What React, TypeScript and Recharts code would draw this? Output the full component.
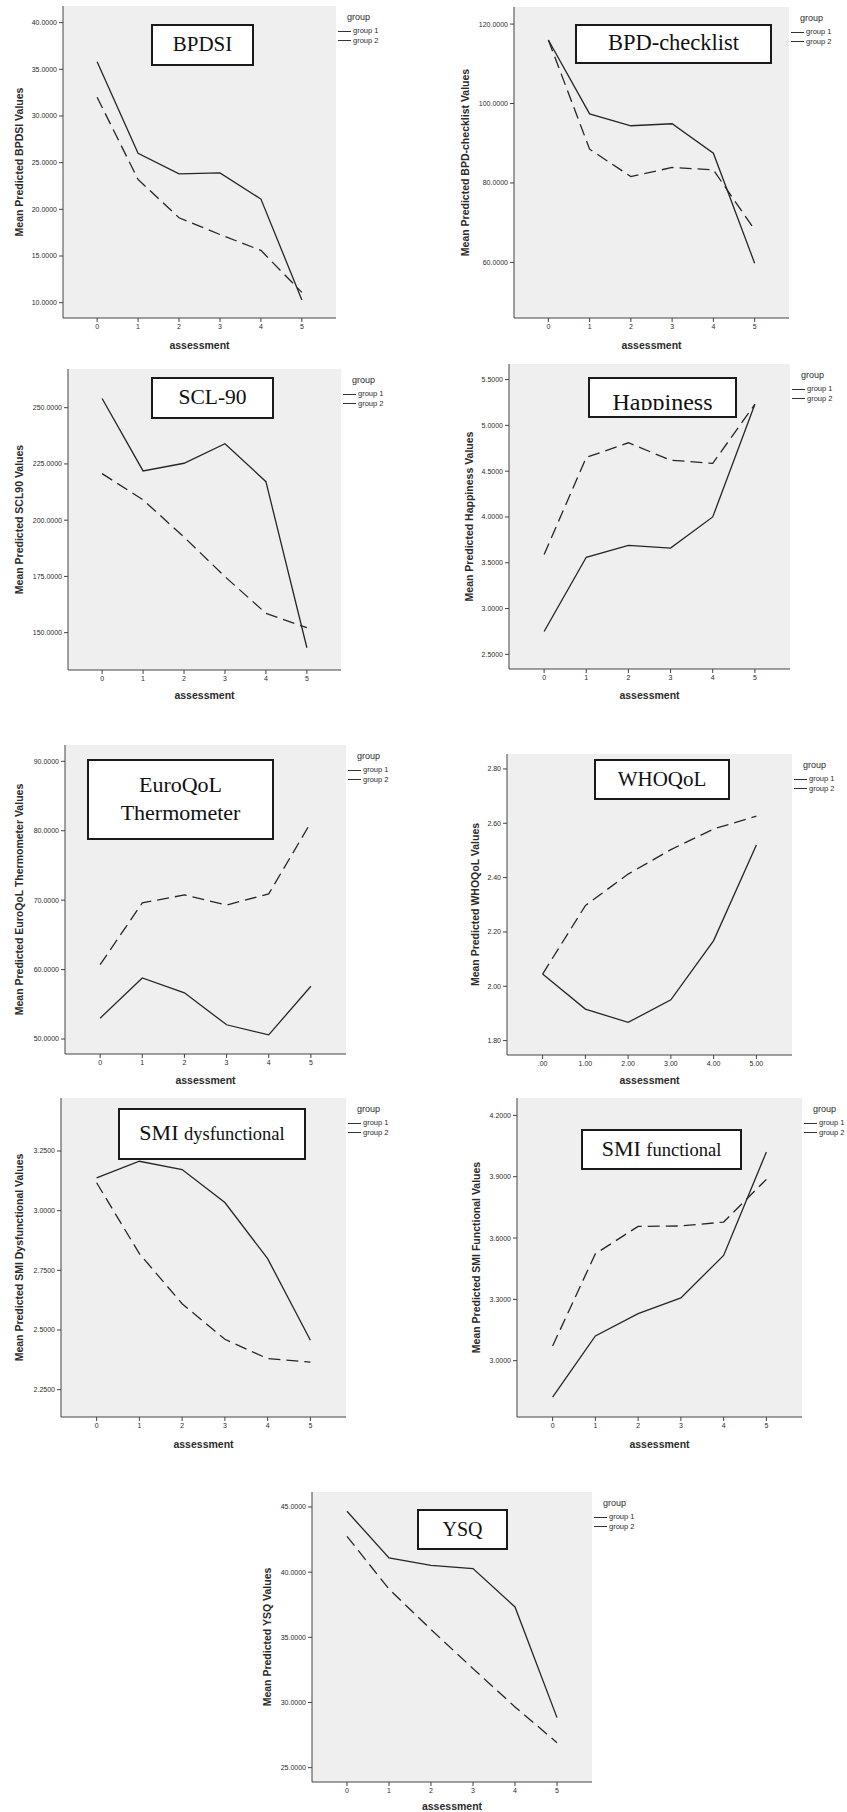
import React from 'react';
import { LineChart, Line, XAxis, YAxis, CartesianGrid } from 'recharts';

// ---------- data ----------
const assessments = [0, 1, 2, 3, 4, 5];
const assessmentLabels = ['0', '1', '2', '3', '4', '5'];
const whoqolAssessmentLabels = ['.00', '1.00', '2.00', '3.00', '4.00', '5.00'];
const groupNames = ['group 1', 'group 2'];

const bpdsiG1 = [35.8, 26.0, 23.8, 23.9, 21.1, 10.3];
const bpdsiG2 = [32.0, 23.2, 19.1, 17.3, 15.6, 11.1];
const bpdsiTicks = [10, 15, 20, 25, 30, 35, 40];

const bpdChecklistG1 = [116.0, 97.4, 94.4, 94.9, 87.5, 59.8];
const bpdChecklistG2 = [116.0, 88.5, 81.6, 83.9, 83.3, 68.2];
const bpdChecklistTicks = [60, 80, 100, 120];

const scl90G1 = [254.1, 221.9, 225.3, 234.0, 217.1, 143.3];
const scl90G2 = [220.7, 209.0, 192.5, 174.9, 158.6, 152.2];
const scl90Ticks = [150, 175, 200, 225, 250];

const happinessG1 = [2.75, 3.56, 3.69, 3.66, 4.0, 5.23];
const happinessG2 = [3.59, 4.65, 4.81, 4.62, 4.585, 5.23];
const happinessTicks = [2.5, 3.0, 3.5, 4.0, 4.5, 5.0, 5.5];

const euroqolG1 = [53.0, 58.8, 56.65, 52.05, 50.6, 57.6];
const euroqolG2 = [60.7, 69.6, 70.75, 69.3, 70.9, 81.2];
const euroqolTicks = [50, 60, 70, 80, 90];

const whoqolG1 = [2.045, 1.916, 1.867, 1.95, 2.168, 2.52];
const whoqolG2 = [2.045, 2.297, 2.413, 2.503, 2.579, 2.626];
const whoqolTicks = [1.8, 2.0, 2.2, 2.4, 2.6, 2.8];

const smiDysG1 = [3.137, 3.207, 3.172, 3.034, 2.799, 2.457];
const smiDysG2 = [3.117, 2.82, 2.61, 2.461, 2.38, 2.365];
const smiDysTicks = [2.25, 2.5, 2.75, 3.0, 3.25];

const smiFuncG1 = [2.822, 3.121, 3.23, 3.307, 3.515, 4.021];
const smiFuncG2 = [3.072, 3.523, 3.657, 3.659, 3.678, 3.887];
const smiFuncTicks = [3.0, 3.3, 3.6, 3.9, 4.2];

const ysqG1 = [44.67, 41.09, 40.52, 40.27, 37.33, 28.84];
const ysqG2 = [42.75, 38.7, 35.6, 32.6, 29.66, 26.92];
const ysqTicks = [25, 30, 35, 40, 45];

// ---------- styling ----------
const SANS = '"Liberation Sans", Arial, Helvetica, sans-serif';
const SERIF = '"Liberation Serif", "Times New Roman", serif';
const INK = '#2b2b2b';
const AXIS = '#444';
const YW = 58;
const XH = 38;
const MT = 2;
const MR = 2;
const X_DOMAIN: [number, number] = [-0.833, 5.833];

type Seg = { t: string; s: number };
type TitleSpec = { rect: number[]; lines: Seg[][]; lh?: number; clip?: number; textTop?: number };
type PanelSpec = {
  id: string;
  yLabel: string;
  g1: number[];
  g2: number[];
  ticks: number[];
  yDomain: [number, number];
  digits: number;
  xLabels: string[];
  box: number[];
  yTitleDist: number;
  xTitleDy: number;
  title: TitleSpec;
};

const panels: PanelSpec[] = [
  {
    id: 'bpdsi', yLabel: 'Mean Predicted BPDSI Values', g1: bpdsiG1, g2: bpdsiG2, ticks: bpdsiTicks,
    yDomain: [8.36, 41.78], digits: 4, xLabels: assessmentLabels, box: [63, 6, 336, 318],
    yTitleDist: 44, xTitleDy: 27,
    title: { rect: [151, 24, 254, 66], lines: [[{ t: 'BPDSI', s: 21 }]] },
  },
  {
    id: 'bpdc', yLabel: 'Mean Predicted BPD-checklist Values', g1: bpdChecklistG1, g2: bpdChecklistG2, ticks: bpdChecklistTicks,
    yDomain: [46.0, 124.3], digits: 4, xLabels: assessmentLabels, box: [514, 7, 789, 318],
    yTitleDist: 49, xTitleDy: 27,
    title: { rect: [575, 24, 772, 64], lines: [[{ t: 'BPD-checklist', s: 22.5 }]] },
  },
  {
    id: 'scl', yLabel: 'Mean Predicted SCL90 Values', g1: scl90G1, g2: scl90G2, ticks: scl90Ticks,
    yDomain: [133.4, 267.2], digits: 4, xLabels: assessmentLabels, box: [68, 369, 341, 670],
    yTitleDist: 49, xTitleDy: 25,
    title: { rect: [151, 377, 274, 419], lines: [[{ t: 'SCL-90', s: 21.5 }]] },
  },
  {
    id: 'happy', yLabel: 'Mean Predicted Happiness Values', g1: happinessG1, g2: happinessG2, ticks: happinessTicks,
    yDomain: [2.34, 5.67], digits: 4, xLabels: assessmentLabels, box: [509, 364, 790, 669],
    yTitleDist: 40, xTitleDy: 26,
    title: { rect: [588, 377, 737, 418], lines: [[{ t: 'Happiness', s: 24 }]], clip: 31, textTop: 11, lh: 24 },
  },
  {
    id: 'euro', yLabel: 'Mean Predicted EuroQoL Thermometer Values', g1: euroqolG1, g2: euroqolG2, ticks: euroqolTicks,
    yDomain: [47.84, 92.35], digits: 4, xLabels: assessmentLabels, box: [65, 745, 346, 1054],
    yTitleDist: 46, xTitleDy: 26,
    title: { rect: [87, 759, 274, 840], lines: [[{ t: 'EuroQoL', s: 22 }], [{ t: 'Thermometer', s: 22 }]], lh: 26 },
  },
  {
    id: 'who', yLabel: 'Mean Predicted WHOQoL Values', g1: whoqolG1, g2: whoqolG2, ticks: whoqolTicks,
    yDomain: [1.747, 2.855], digits: 2, xLabels: whoqolAssessmentLabels, box: [507, 754, 792, 1055],
    yTitleDist: 32, xTitleDy: 25,
    title: { rect: [594, 759, 730, 800], lines: [[{ t: 'WHOQoL', s: 21 }]] },
  },
  {
    id: 'smid', yLabel: 'Mean Predicted SMI Dysfunctional Values', g1: smiDysG1, g2: smiDysG2, ticks: smiDysTicks,
    yDomain: [2.1355, 3.472], digits: 4, xLabels: assessmentLabels, box: [61, 1098, 346, 1417],
    yTitleDist: 42, xTitleDy: 27,
    title: { rect: [118, 1108, 306, 1160], lines: [[{ t: 'SMI', s: 22 }, { t: 'dysfunctional', s: 18.5 }]] },
  },
  {
    id: 'smif', yLabel: 'Mean Predicted SMI Functional Values', g1: smiFuncG1, g2: smiFuncG2, ticks: smiFuncTicks,
    yDomain: [2.7245, 4.285], digits: 4, xLabels: assessmentLabels, box: [517, 1098, 802, 1417],
    yTitleDist: 41, xTitleDy: 27,
    title: { rect: [581, 1129, 742, 1170], lines: [[{ t: 'SMI', s: 22 }, { t: 'functional', s: 18.5 }]] },
  },
  {
    id: 'ysq', yLabel: 'Mean Predicted YSQ Values', g1: ysqG1, g2: ysqG2, ticks: ysqTicks,
    yDomain: [23.9, 46.15], digits: 4, xLabels: assessmentLabels, box: [312, 1492, 592, 1782],
    yTitleDist: 45, xTitleDy: 24,
    title: { rect: [417, 1509, 508, 1550], lines: [[{ t: 'YSQ', s: 20 }]] },
  },
];

const makeYTitle = (text: string, dist: number) => (props: any) => {
  const vb = props.viewBox || {};
  const cx = vb.x + vb.width - dist;
  const cy = vb.y + vb.height / 2;
  return (
    <text x={cx} y={cy} transform={`rotate(-90 ${cx} ${cy})`} textAnchor="middle" dominantBaseline="central"
      fontSize={10.5} fontWeight="bold" fontFamily={SANS} fill={INK}>
      {text}
    </text>
  );
};

const makeXTitle = (dy: number) => (props: any) => {
  const vb = props.viewBox || {};
  const cx = vb.x + vb.width / 2;
  const cy = vb.y + dy;
  return (
    <text x={cx} y={cy} textAnchor="middle" dominantBaseline="central"
      fontSize={10.5} fontWeight="bold" fontFamily={SANS} fill={INK}>
      assessment
    </text>
  );
};

function GroupLegend({ x, y }: { x: number; y: number }) {
  return (
    <>
      <div style={{ position: 'absolute', left: x + 11, top: y + 10.5, transform: 'translateY(-50%)', fontSize: 9, fontFamily: SANS, color: INK, lineHeight: 1, whiteSpace: 'nowrap' }}>group</div>
      {groupNames.map((g, i) => (
        <React.Fragment key={g}>
          <div style={{ position: 'absolute', left: x + 2, top: y + 24.5 + i * 9.5, width: 13, borderTop: '1px solid #333' }} />
          <div style={{ position: 'absolute', left: x + 17, top: y + 25 + i * 9.5, transform: 'translateY(-50%)', fontSize: 7.5, fontFamily: SANS, color: INK, lineHeight: 1, whiteSpace: 'nowrap' }}>{g}</div>
        </React.Fragment>
      ))}
    </>
  );
}

function TitleBox({ t }: { t: TitleSpec }) {
  const [x0, y0, x1, y1] = t.rect;
  const base: React.CSSProperties = {
    position: 'absolute', left: x0, top: y0, width: x1 - x0, height: y1 - y0, boxSizing: 'border-box',
    border: '2px solid #1a1a1a', background: '#fff', fontFamily: SERIF, color: '#111', overflow: 'hidden',
  };
  const renderLine = (line: Seg[], i: number) => (
    <div key={i} style={{ lineHeight: (t.lh || 26) + 'px', whiteSpace: 'nowrap', textAlign: 'center' }}>
      {line.map((seg, j) => (
        <span key={j} style={{ fontSize: seg.s }}>{seg.t}{j < line.length - 1 ? ' ' : ''}</span>
      ))}
    </div>
  );
  if (t.clip) {
    return (
      <div style={base}>
        <div style={{ position: 'absolute', left: 0, right: 0, top: 0, height: t.clip, overflow: 'hidden' }}>
          <div style={{ position: 'absolute', left: 0, right: 0, top: t.textTop }}>{t.lines.map(renderLine)}</div>
        </div>
      </div>
    );
  }
  return (
    <div style={{ ...base, display: 'flex', flexDirection: 'column', alignItems: 'center', justifyContent: 'center' }}>
      {t.lines.map(renderLine)}
    </div>
  );
}

function Panel({ p }: { p: PanelSpec }) {
  const data = assessments.map((t, i) => ({ t, g1: p.g1[i], g2: p.g2[i] }));
  const [x0, y0, x1, y1] = p.box;
  const width = x1 - x0 + YW + MR;
  const height = y1 - y0 + XH + MT;
  const tickStyle = { fontSize: 7, fill: INK, fontFamily: SANS };
  return (
    <>
      <div style={{ position: 'absolute', left: x0 - YW, top: y0 - MT }}>
        <LineChart width={width} height={height} data={data} margin={{ top: MT, right: MR, bottom: 0, left: 0 }}>
          <CartesianGrid horizontal={false} vertical={false} fill="#efefef" />
          <XAxis dataKey="t" type="number" domain={X_DOMAIN} ticks={assessments} interval={0} allowDataOverflow
            tickFormatter={(v: number) => p.xLabels[assessments.indexOf(v)]}
            height={XH} tickSize={4} tickMargin={2} stroke={AXIS} tick={tickStyle}
            label={makeXTitle(p.xTitleDy)} />
          <XAxis xAxisId="top" orientation="top" type="number" domain={X_DOMAIN} allowDataOverflow
            height={0} tick={false} tickLine={false} stroke={AXIS} />
          <YAxis type="number" domain={p.yDomain} ticks={p.ticks} interval={0} allowDataOverflow
            tickFormatter={(v: number) => v.toFixed(p.digits)}
            width={YW} tickSize={4} tickMargin={2} stroke={AXIS} tick={tickStyle}
            label={makeYTitle(p.yLabel, p.yTitleDist)} />
          <YAxis yAxisId="right" orientation="right" type="number" domain={p.yDomain} allowDataOverflow
            width={0} tick={false} tickLine={false} stroke={AXIS} />
          <Line dataKey="g1" type="linear" stroke="#262626" strokeWidth={1.3} dot={false} isAnimationActive={false} />
          <Line dataKey="g2" type="linear" stroke="#262626" strokeWidth={1.3} strokeDasharray="12 6" dot={false} isAnimationActive={false} />
        </LineChart>
      </div>
      <TitleBox t={p.title} />
      <GroupLegend x={x1} y={y0} />
    </>
  );
}

export default function App() {
  return (
    <div style={{ position: 'absolute', left: 0, top: 0, width: 847, height: 1812, overflow: 'hidden', background: '#fff' }}>
      {panels.map((p) => (
        <Panel key={p.id} p={p} />
      ))}
    </div>
  );
}
